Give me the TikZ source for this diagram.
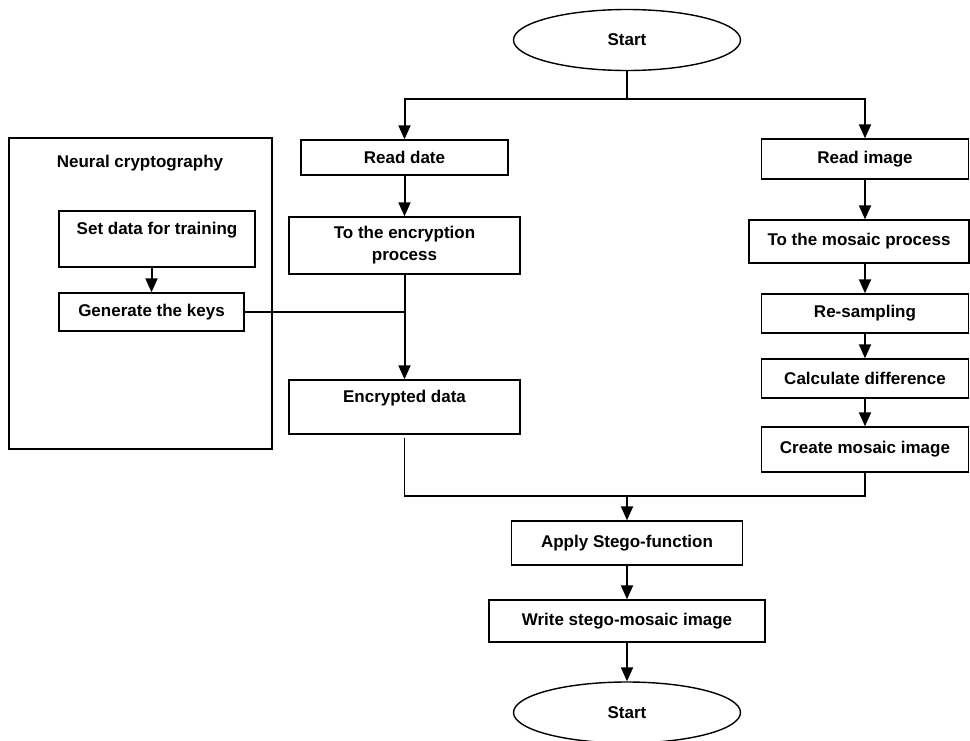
\documentclass[tikz,border=0pt]{standalone}
\usepackage{fontspec}
\setmainfont{Liberation Sans}
\usepackage{tikz}
\usetikzlibrary{arrows.meta,shapes.geometric,positioning,calc}
\tikzset{
box/.style={draw,line width=0.7pt,inner sep=0pt,align=center},
oval/.style={draw,ellipse,line width=0.7pt,inner sep=0pt,minimum width=113.5pt,minimum height=30.5pt},
arr/.style={line width=1pt,-{Triangle[width=6pt,length=7pt]}},
link/.style={line width=0.7pt}
}
\begin{document}
\begin{tikzpicture}[x=0.5pt,y=-0.5pt,font=\fontsize{8.5}{11}\selectfont\bfseries]
\useasboundingbox (0,0) rectangle (970,740);
\node (start) [oval] at (627,40) {Start};
\node (readdate) [box,minimum width=103.5pt,minimum height=17.5pt] at (404.5,157.5) {Read date};
\node (encproc) [box,minimum width=115.5pt,minimum height=28.5pt] at (404.5,245.5) {To the encryption\\process};
\node (encdata) [box,minimum width=115.5pt,minimum height=27pt] at (404.5,407) {Encrypted data\\\mbox{}};
\node (neural) [box,minimum width=131.5pt,minimum height=155.5pt] at (140.5,293.5) {};
\node (neuraltitle) at (140,163) {Neural cryptography};
\node (setdata) [box,minimum width=98pt,minimum height=28pt] at (157,239) {Set data for training\\\mbox{}};
\node (genkeys) [box,minimum width=92.5pt,minimum height=19pt] at (151.5,312) {Generate the keys};
\node (readimg) [box,minimum width=103.5pt,minimum height=20pt] at (865,159) {Read image};
\node (mosaic) [box,minimum width=110pt,minimum height=21.5pt] at (859,241.5) {To the mosaic process};
\node (resample) [box,minimum width=103.5pt,minimum height=19.5pt] at (865,313.5) {Re-sampling};
\node (calcdiff) [box,minimum width=103.5pt,minimum height=19.5pt] at (865,378.5) {Calculate difference};
\node (mosaicimg) [box,minimum width=103.5pt,minimum height=22.5pt] at (865,449.5) {Create mosaic image};
\node (stego) [box,minimum width=115.5pt,minimum height=22pt] at (627,543) {Apply Stego-function};
\node (writeimg) [box,minimum width=138pt,minimum height=21pt] at (627,621) {Write stego-mosaic image};
\node (stop) [oval] at (627,712.5) {Start};

\coordinate (split) at (627,99);
\coordinate (join) at (627,496);
\draw[link] (start) -- (split);
\draw[arr] (split) -| (readdate.north);
\draw[arr] (split) -| (readimg.north);
\foreach \a/\b in {readdate/encproc,encproc/encdata,resample/calcdiff,calcdiff/mosaicimg,stego/writeimg,writeimg/stop}{
\draw[arr] (\a) -- (\b);
}
\draw[arr] (readimg) -- (mosaic.north -| readimg.south);
\draw[arr] (mosaic.south -| readimg.south) -- (resample);
\draw[arr] (setdata.south -| genkeys.north) -- (genkeys);
\draw[link] (genkeys.east) -- (genkeys.east -| encproc.south);
\draw[link,shorten <=1.5pt] (encdata.south) |- (join) -| (mosaicimg.south);
\draw[arr] (join) -- (stego);
\end{tikzpicture}
\end{document}
